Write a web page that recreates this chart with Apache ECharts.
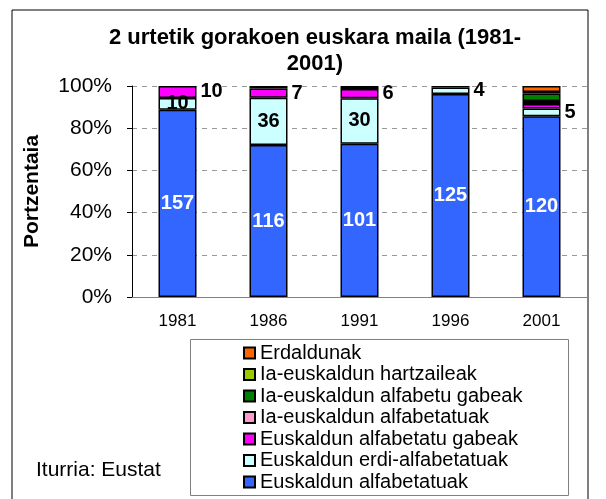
<!DOCTYPE html>
<html>
<head>
<meta charset="utf-8">
<script src="https://cdn.jsdelivr.net/npm/echarts@6/dist/echarts.min.js"></script>
<style>
  html, body { margin: 0; padding: 0; background: #fff; }
  #main { width: 606px; height: 499px; }
</style>
</head>
<body>
<div id="main"></div>
<script>
// urteak
let years = ['1981', '1986', '1991', '1996', '2001']
let yTicks = [0, 20, 40, 60, 80, 100]

// pertsona kopuruak (milaka), seriez serie
let euskAlfa = [157, 116, 101, 125, 120]
let euskErdi = [10, 36, 30, 4, 5]
let euskGabe = [10, 7, 6, 1, 3]
let iaAlfa = [0, 0, 0, 0, 2]
let iaGabe = [0, 2, 2, 0, 5]
let iaHartz = [0, 0, 0, 0, 1]
let erdaldun = [0, 0, 0, 0, 4]

let names = [
  'Euskaldun alfabetatuak',
  'Euskaldun erdi-alfabetatuak',
  'Euskaldun alfabetatu gabeak',
  'Ia-euskaldun alfabetatuak',
  'Ia-euskaldun alfabetu gabeak',
  'Ia-euskaldun hartzaileak',
  'Erdaldunak'
]
let colors = ['#3366ff', '#ccffff', '#ff00ff', '#ff99cc', '#008000', '#99cc00', '#ff6600']
let values = [euskAlfa, euskErdi, euskGabe, iaAlfa, iaGabe, iaHartz, erdaldun]

let totals = years.map(function (y, i) {
  return values.reduce(function (s, arr) { return s + arr[i] }, 0)
})

let font = 'Liberation Sans, Arial, sans-serif'
let insideWhite = { show: true, position: 'inside', color: '#fff', fontWeight: 'bold', fontSize: 20, fontFamily: font }
let insideBlack = { show: true, position: 'inside', color: '#000', fontWeight: 'bold', fontSize: 20, fontFamily: font }
let rightBlack = { show: true, position: 'right', distance: 4, color: '#000', fontWeight: 'bold', fontSize: 20, fontFamily: font }

// zein segmentutan idazten den kopurua
function labelFor (s, v) {
  if (s === 0) return insideWhite
  if (s === 1) return v >= 10 ? insideBlack : rightBlack
  if (s === 2 && v >= 5) return rightBlack
  return { show: false }
}

let series = values.map(function (arr, s) {
  return {
    name: names[s],
    type: 'bar',
    stack: 'guztira',
    barWidth: 38,
    itemStyle: { color: colors[s], borderColor: '#000', borderWidth: 1.5 },
    data: arr.map(function (v, i) {
      if (!v) return '-'
      return {
        value: v / totals[i] * 100,
        count: v,
        label: Object.assign({}, labelFor(s, v), {
          formatter: function (p) { return p.data.count }
        })
      }
    })
  }
})

let myChart = echarts.init(document.getElementById('main'))
myChart.setOption({
  animation: false,
  textStyle: { fontFamily: font },
  title: {
    text: '2 urtetik gorakoen euskara maila (1981-\n2001)',
    left: 310,
    textAlign: 'center',
    top: 20,
    textStyle: { fontSize: 22, fontWeight: 'bold', color: '#000', lineHeight: 26, fontFamily: font }
  },
  grid: { left: 132, right: 19, top: 86, bottom: 202 },
  legend: {
    orient: 'vertical',
    left: 238,
    top: 338,
    height: 160,
    icon: 'rect',
    itemWidth: 11,
    itemHeight: 11,
    itemGap: 1.5,
    itemStyle: { borderColor: '#000', borderWidth: 2 },
    data: names.slice().reverse(),
    textStyle: { fontSize: 20, color: '#000', lineHeight: 19, fontFamily: font }
  },
  graphic: [
    {
      type: 'rect',
      shape: { x: 12, y: 10, width: 576, height: 500 },
      style: { fill: 'none', stroke: '#000', lineWidth: 1 },
      silent: true
    },
    {
      type: 'rect',
      shape: { x: 190.5, y: 339.5, width: 378, height: 156 },
      style: { fill: 'none', stroke: '#808080', lineWidth: 1 },
      silent: true
    },
    {
      type: 'text',
      left: 36,
      top: 460,
      style: { text: 'Iturria: Eustat', fill: '#000', font: '21px ' + font }
    }
  ],
  xAxis: {
    type: 'category',
    data: years,
    axisLine: { lineStyle: { color: '#808080', width: 1 } },
    axisTick: { lineStyle: { color: '#000' }, length: 5 },
    axisLabel: { color: '#000', fontSize: 17, margin: 16, fontFamily: font }
  },
  yAxis: {
    type: 'value',
    min: yTicks[0],
    max: yTicks[yTicks.length - 1],
    interval: yTicks[1] - yTicks[0],
    name: 'Portzentaia',
    nameLocation: 'middle',
    nameRotate: 90,
    nameGap: 89,
    nameTextStyle: { fontSize: 21, fontWeight: 'bold', color: '#000', fontFamily: font },
    axisLine: { show: true, lineStyle: { color: '#000', width: 1 } },
    axisTick: { show: true, length: 5, lineStyle: { color: '#000' } },
    axisLabel: { formatter: '{value}%', color: '#000', fontSize: 21, margin: 20, fontFamily: font },
    splitLine: { lineStyle: { color: '#999', type: [5, 5] } }
  },
  series: series
})
</script>
</body>
</html>
